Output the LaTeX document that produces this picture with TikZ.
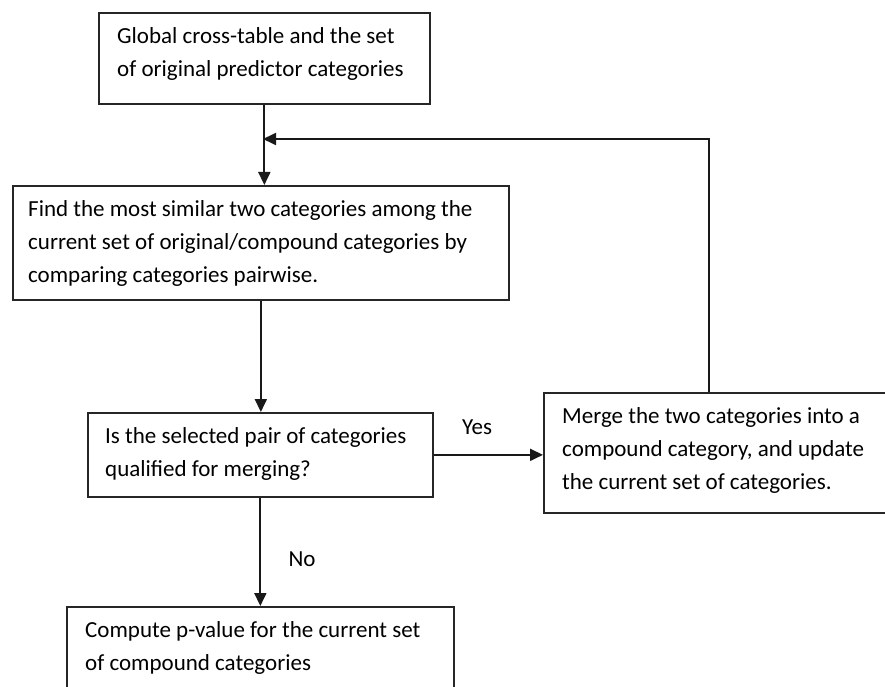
\documentclass[tikz,border=0pt]{standalone}
\usepackage{fontspec}
\setmainfont{Carlito}
\usetikzlibrary{arrows.meta}
\begin{document}
\begin{tikzpicture}[x=1pt,y=-1pt,
  box/.style={draw=black!85, line width=1.7pt, anchor=north west, inner sep=0pt},
  txt/.style={anchor=north west, inner sep=0pt, align=left, text=black,
    font=\fontsize{23pt}{33pt}\selectfont},
  arr/.style={draw=black!90, line width=1.8pt, -{Triangle[length=13pt,width=12pt]}},
  lbl/.style={inner sep=0pt, text=black, font=\fontsize{23pt}{33pt}\selectfont}]
\clip (0,0) rectangle (885,687);
\fill[white] (0,0) rectangle (885,687);
% boxes
\node[box, minimum width=331pt, minimum height=91pt] (b1) at (98,12) {};
\node[box, minimum width=496pt, minimum height=114pt] (b2) at (12,185) {};
\node[box, minimum width=345pt, minimum height=84pt] (b3) at (87,412) {};
\node[box, minimum width=360pt, minimum height=120pt] (b4) at (543,392) {};
\node[box, minimum width=387pt, minimum height=110pt] (b5) at (66,606) {};
% texts
\node[txt] (t1) at (117,24) {\rule{0pt}{19pt}Global cross-table and the set\\of original predictor categories};
\node[txt] (t2) at (28,197) {\rule{0pt}{19pt}Find the most similar two categories among the\\current set of original/compound categories by\\comparing categories pairwise.};
\node[txt] (t3) at (105,424) {\rule{0pt}{19pt}Is the selected pair of categories\\qualified for merging?};
\node[txt] (t4) at (562,404) {\rule{0pt}{19pt}Merge the two categories into a\\compound category, and update\\the current set of categories.};
\node[txt] (t5) at (85,618) {\rule{0pt}{19pt}Compute p-value for the current set\\of compound categories};
% connectors
\coordinate (j) at (263,139);
\coordinate (fb) at (709,392);
\draw[arr] (b1.south) -- (b1.south |- b2.north);
\draw[arr] (fb) |- (j);
\draw[arr] (b2.south) -- (b2.south |- b3.north);
\draw[arr] (b3.east) -- (b3.east -| b4.west);
\draw[arr] (b3.south) -- (b3.south |- b5.north);
\node[lbl] (yes) at (477,427) {Yes};
\node[lbl] (no) at (302,559) {No};
\end{tikzpicture}
\end{document}
